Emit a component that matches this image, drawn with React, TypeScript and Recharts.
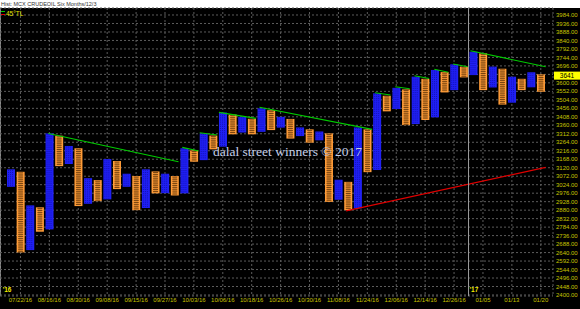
import React from 'react';
import { ComposedChart, Bar, XAxis, YAxis, CartesianGrid, ReferenceLine } from 'recharts';

// point & figure columns, box 12, reversal 3 — even index = X (up), odd = O (down)
const highs = [3111, 3097, 2907, 2896, 3314, 3301, 3243, 3230, 3061, 3050, 3169, 3158, 3086, 3073, 3111, 3099, 3086, 3073, 3230, 3218, 3314, 3302, 3432, 3421, 3408, 3397, 3456, 3445, 3408, 3396, 3348, 3337, 3325, 3314, 3052, 3040, 3348, 3337, 3541, 3527, 3572, 3563, 3635, 3623, 3673, 3661, 3705, 3691, 3776, 3767, 3692, 3680, 3635, 3623, 3660, 3648];
const lows = [3012, 2641, 2654, 2758, 2771, 3129, 3141, 2903, 2916, 2931, 2941, 2999, 3012, 2880, 2892, 2975, 2976, 2963, 2975, 3154, 3163, 3224, 3239, 3309, 3319, 3309, 3323, 3333, 3347, 3285, 3299, 3262, 3275, 2927, 2939, 2880, 2890, 3095, 3107, 3439, 3452, 3361, 3367, 3390, 3405, 3546, 3559, 3631, 3644, 3559, 3574, 3477, 3488, 3559, 3575, 3550];

const tickCols = [1, 4, 7, 10, 13, 16, 19, 22, 25, 28, 31, 34, 37, 40, 43, 46, 49, 52, 55];
const tickLabels = ['07/22/16', '08/16/16', '08/30/16', '09/08/16', '09/15/16', '09/27/16', '10/03/16', '10/06/16', '10/18/16', '10/26/16', '10/30/16', '11/08/16', '11/24/16', '12/06/16', '12/14/16', '12/26/16', '01/05', '01/13', '01/20'];

const priceTicks = [2400, 2448, 2496, 2544, 2592, 2640, 2688, 2736, 2784, 2832, 2880, 2928, 2976, 3024, 3072, 3120, 3168, 3216, 3264, 3312, 3360, 3408, 3456, 3504, 3552, 3600, 3648, 3696, 3744, 3792, 3840, 3888, 3936, 3984];

// 45° trendlines: [fromCol, fromPrice, toCol, toPrice]
const greenLines = [
  [3.9, 3314, 17.4, 3154],
  [17.8, 3235, 19.5, 3215],
  [19.6, 3318, 21.4, 3305],
  [21.6, 3433, 25.45, 3399],
  [25.8, 3462, 37.5, 3337],
  [37.8, 3544, 39.4, 3531],
  [39.9, 3578, 41.4, 3567],
  [41.9, 3640, 43.4, 3625],
  [43.95, 3677, 45.4, 3660],
  [45.9, 3707, 47.4, 3691],
  [47.7, 3782, 55.5, 3691],
];
const redLines = [[34.8, 2876, 55.5, 3122]];

const lastPrice = 3641;
const yearMarks = [
  { col: -0.95, label: "'16" },
  { col: 47.5, label: "'17" },
];

const BOX = 12;
const data = highs.map((h, i) => ({ col: i, range: [lows[i], h] }));

const FONT = '"Liberation Sans", Arial, sans-serif';
const COL_DOMAIN = [-1.1227, 56.267];

function PnfColumn(props: any) {
  const { x, y, width, height, payload } = props;
  if (!height || height <= 0) return null;
  const isX = payload.col % 2 === 0;
  const [lo, hi] = payload.range;
  const pitch = height / Math.max(1, (hi - lo) / BOX);
  const rows: number[] = [];
  for (let yy = y + pitch / 2; yy < y + height - 0.5; yy += pitch) rows.push(yy);
  if (isX) {
    return (
      <g>
        <rect x={x} y={y} width={width} height={height} fill="#2020f4" />
        {rows.map((r, i) => (
          <line key={i} x1={x + 1} x2={x + width - 1} y1={r} y2={r} stroke="#0b0b9c" strokeWidth={0.7} strokeDasharray="1 1" />
        ))}
      </g>
    );
  }
  return (
    <g>
      <rect x={x} y={y} width={width} height={height} fill="#ff9c38" />
      <rect x={x + 2} y={y + 1} width={width - 4} height={height - 2} fill="#e08a30" />
      {rows.map((r, i) => (
        <line key={i} x1={x + 1.5} x2={x + width - 1.5} y1={r} y2={r} stroke="#5e3208" strokeWidth={0.8} />
      ))}
    </g>
  );
}

export default function App() {
  return (
    <div style={{ position: 'relative', width: 580, height: 309, background: '#000', overflow: 'hidden' }}>
      <style>{`body{margin:0}`}</style>
      <div style={{ position: 'absolute', left: 0, top: 0, width: 580, height: 8, background: '#fff', fontFamily: FONT, fontSize: 5.5, lineHeight: '8px', color: '#333', paddingLeft: 1 }}>
        Hist: MCX CRUDEOIL Six Months/12/3
      </div>
      <div style={{ position: 'absolute', left: 0, top: 8, width: 1, height: 288, background: '#8a8a8a' }} />
      <ComposedChart width={580} height={309} data={data} margin={{ top: 8, right: 0, bottom: 0, left: 0 }} style={{ position: 'absolute', left: 0, top: 0 }}>
        <CartesianGrid stroke="#5c5c5c" strokeDasharray="2 2" />
        <XAxis
          dataKey="col"
          type="category"
          ticks={tickCols}
          interval={0}
          tickFormatter={(v: number) => tickLabels[tickCols.indexOf(v)] ?? ''}
          padding={{ left: 6, right: 7.4 }}
          height={13}
          axisLine={false}
          tickLine={false}
          tickSize={0}
          tickMargin={2}
          tick={{ fill: '#c8c400', fontSize: 6, fontFamily: FONT }}
        />
        <XAxis
          xAxisId="n"
          dataKey="col"
          type="number"
          scale="linear"
          domain={COL_DOMAIN}
          ticks={COL_DOMAIN}
          allowDataOverflow
          hide
        />
        <YAxis
          orientation="right"
          width={27}
          domain={[2394.3, 4023.6]}
          allowDataOverflow
          ticks={priceTicks}
          interval={0}
          tickFormatter={(v: number) => (v === 3648 ? '' : v.toFixed(2))}
          axisLine={false}
          tickLine={false}
          tickSize={0}
          tickMargin={3}
          tick={{ fill: '#c8c400', fontSize: 6, fontFamily: FONT }}
        />
        <Bar dataKey="range" barSize={8} shape={<PnfColumn />} isAnimationActive={false} />
        {greenLines.map((s, i) => (
          <ReferenceLine key={'g' + i} xAxisId="n" segment={[{ x: s[0], y: s[1] }, { x: s[2], y: s[3] }]} stroke="#00cc00" strokeWidth={1.1} ifOverflow="visible" />
        ))}
        {redLines.map((s, i) => (
          <ReferenceLine key={'r' + i} xAxisId="n" segment={[{ x: s[0], y: s[1] }, { x: s[2], y: s[3] }]} stroke="#e00000" strokeWidth={1.1} ifOverflow="visible" />
        ))}
        {yearMarks.map((m, i) => (
          <ReferenceLine
            key={'y' + i}
            xAxisId="n"
            x={m.col}
            stroke={i === 0 ? 'none' : '#9c9c9c'}
            ifOverflow="visible"
            label={(p: any) => (
              <text x={p.viewBox.x + 1} y={p.viewBox.y + p.viewBox.height - 4} fill="#f0ec00" fontSize={6.5} fontWeight="bold" fontFamily={FONT}>
                {m.label}
              </text>
            )}
          />
        ))}
        <ReferenceLine
          y={lastPrice}
          stroke="none"
          ifOverflow="visible"
          label={(p: any) => (
            <g>
              <rect x={554} y={p.viewBox.y - 4} width={26} height={8} fill="#ffff00" />
              <text x={567} y={p.viewBox.y + 2.2} textAnchor="middle" fill="#000" fontSize={6.5} fontFamily={FONT}>
                {lastPrice}
              </text>
            </g>
          )}
        />
      </ComposedChart>
      <div style={{ position: 'absolute', left: 1, top: 11, width: 4, height: 1.3, background: '#00cc00' }} />
      <div style={{ position: 'absolute', left: 1, top: 14, width: 4, height: 1.3, background: '#e00000' }} />
      <div style={{ position: 'absolute', left: 6, top: 10, fontFamily: FONT, fontSize: 6.5, lineHeight: '7px', color: '#e8e400' }}>45°TL</div>
      <div style={{ position: 'absolute', left: 213, top: 145, fontFamily: '"Liberation Serif", "Times New Roman", serif', fontSize: 13.5, lineHeight: '13.5px', color: '#c4cfe8', whiteSpace: 'nowrap', pointerEvents: 'none' }}>
        dalal street winners © 2017
      </div>
    </div>
  );
}
